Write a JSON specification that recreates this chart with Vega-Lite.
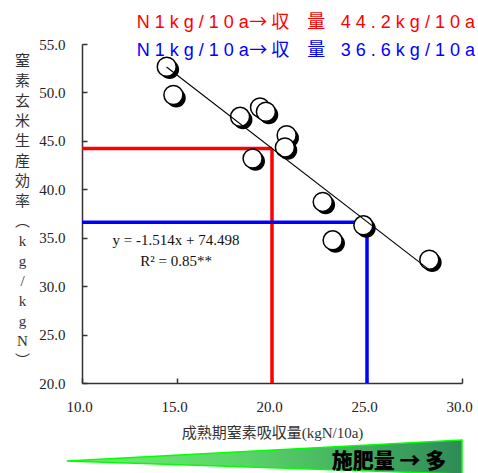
{
  "$schema": "https://vega.github.io/schema/vega-lite/v6.json",
  "width": 380,
  "height": 339,
  "autosize": {"type": "none"},
  "padding": {"left": 82, "top": 44, "right": 16, "bottom": 90},
  "background": "white",
  "config": {
    "view": {"stroke": null},
    "axis": {
      "grid": false,
      "labelFlush": false,
      "labelOverlap": false,
      "domainColor": "#333333",
      "domainWidth": 1.5,
      "tickColor": "#333333",
      "tickWidth": 1.5,
      "tickSize": -5,
      "labelFont": "Liberation Serif",
      "labelFontSize": 15,
      "labelColor": "#222222",
      "titleFont": "Liberation Serif, Noto Sans CJK JP",
      "titleFontWeight": "normal",
      "titleColor": "#333333"
    }
  },
  "datasets": {
    "points": [
      {"x": 14.46, "y": 52.65},
      {"x": 14.81, "y": 49.73},
      {"x": 18.32, "y": 47.48},
      {"x": 19.37, "y": 48.45},
      {"x": 19.68, "y": 48.0},
      {"x": 20.77, "y": 45.59},
      {"x": 20.68, "y": 44.32},
      {"x": 18.98, "y": 43.18},
      {"x": 22.67, "y": 38.7},
      {"x": 24.81, "y": 36.28},
      {"x": 23.19, "y": 34.73},
      {"x": 28.28, "y": 32.73}
    ],
    "fit": [
      {"x": 14.45, "y": 52.62},
      {"x": 28.25, "y": 31.73}
    ],
    "guides": [
      {"series": "44.2", "x": 10, "x2": 20, "y": 44.2, "y2": 44.2},
      {"series": "44.2", "x": 20, "x2": 20, "y": 20, "y2": 44.2},
      {"series": "36.6", "x": 10, "x2": 25, "y": 36.6, "y2": 36.6},
      {"series": "36.6", "x": 25, "x2": 25, "y": 20, "y2": 36.6}
    ],
    "wedge": [
      {"x": 9.2, "lo": 11.95, "hi": 11.95},
      {"x": 30, "lo": 10.6, "hi": 14.12}
    ]
  },
  "layer": [
    {
      "data": {"name": "wedge"},
      "mark": {
        "type": "area",
        "clip": false,
        "stroke": "#00ff00",
        "strokeWidth": 1.5,
        "fill": {
          "gradient": "linear",
          "x1": 0, "x2": 1, "y1": 0, "y2": 0,
          "stops": [
            {"offset": 0, "color": "#70f070"},
            {"offset": 0.45, "color": "#5ad46a"},
            {"offset": 1, "color": "#2e8b57"}
          ]
        }
      },
      "encoding": {
        "x": {"field": "x", "type": "quantitative", "scale": {"domain": [10, 30], "nice": false, "zero": false}},
        "y": {"field": "lo", "type": "quantitative", "scale": {"domain": [20, 55], "nice": false, "zero": false}},
        "y2": {"field": "hi"}
      }
    },
    {
      "data": {"name": "points"},
      "mark": {"type": "point", "opacity": 0},
      "encoding": {
        "x": {
          "field": "x", "type": "quantitative",
          "scale": {"domain": [10, 30], "nice": false, "zero": false},
          "axis": {
            "values": [10, 15, 20, 25, 30],
            "format": ".1f",
            "labelPadding": 21,
            "labelOffset": -3,
            "title": "成熟期窒素吸収量(kgN/10a)",
            "titleFontSize": 15,
            "titlePadding": 11
          }
        },
        "y": {
          "field": "y", "type": "quantitative",
          "scale": {"domain": [20, 55], "nice": false, "zero": false},
          "axis": {
            "values": [20, 25, 30, 35, 40, 45, 50, 55],
            "format": ".1f",
            "labelPadding": 22,
            "title": ["窒", "素", "玄", "米", "生", "産", "効", "率", "︵", "k", "g", "/", "k", "g", "N", "︶"],
            "titleAngle": 0,
            "titleFontSize": 15,
            "titleLineHeight": 20,
            "titleAlign": "center",
            "titleBaseline": "top",
            "titleX": -60,
            "titleY": 9
          }
        }
      }
    },
    {
      "data": {"name": "guides"},
      "mark": {"type": "rule", "strokeWidth": 3.5, "strokeCap": "butt"},
      "encoding": {
        "x": {"field": "x", "type": "quantitative", "scale": {"domain": [10, 30], "nice": false, "zero": false}},
        "x2": {"field": "x2"},
        "y": {"field": "y", "type": "quantitative", "scale": {"domain": [20, 55], "nice": false, "zero": false}},
        "y2": {"field": "y2"},
        "color": {"field": "series", "type": "nominal", "scale": {"domain": ["44.2", "36.6"], "range": ["#ff0000", "#0000ff"]}, "legend": null}
      }
    },
    {
      "data": {"name": "points"},
      "mark": {"type": "point", "filled": true, "fill": "#000000", "stroke": null, "opacity": 1, "size": 361, "shape": "M-0.7,0.3A1,1,0,1,0,1.3,0.3A1,1,0,1,0,-0.7,0.3Z"},
      "encoding": {
        "x": {"field": "x", "type": "quantitative", "scale": {"domain": [10, 30], "nice": false, "zero": false}},
        "y": {"field": "y", "type": "quantitative", "scale": {"domain": [20, 55], "nice": false, "zero": false}}
      }
    },
    {
      "data": {"name": "points"},
      "mark": {"type": "point", "shape": "circle", "filled": true, "fill": "#ffffff", "stroke": "#000000", "strokeWidth": 1.5, "opacity": 1, "size": 361},
      "encoding": {
        "x": {"field": "x", "type": "quantitative", "scale": {"domain": [10, 30], "nice": false, "zero": false}},
        "y": {"field": "y", "type": "quantitative", "scale": {"domain": [20, 55], "nice": false, "zero": false}}
      }
    },
    {
      "data": {"name": "fit"},
      "mark": {"type": "line", "color": "#000000", "strokeWidth": 1.1},
      "encoding": {
        "x": {"field": "x", "type": "quantitative", "scale": {"domain": [10, 30], "nice": false, "zero": false}},
        "y": {"field": "y", "type": "quantitative", "scale": {"domain": [20, 55], "nice": false, "zero": false}}
      }
    },
    {
      "data": {"values": [{}]},
      "mark": {"type": "text", "align": "left", "baseline": "alphabetic", "font": "Liberation Sans", "fontSize": 18, "color": "#ff0000"},
      "encoding": {
        "x": {"datum": 12.88, "type": "quantitative", "scale": {"domain": [10, 30], "nice": false, "zero": false}},
        "y": {"datum": 56.65, "type": "quantitative", "scale": {"domain": [20, 55], "nice": false, "zero": false}},
        "text": {"value": "N 1 k g / 1 0 a"}
      }
    },
    {
      "data": {"values": [{}]},
      "mark": {"type": "text", "align": "left", "baseline": "alphabetic", "font": "Noto Sans CJK JP", "fontSize": 18, "color": "#ff0000"},
      "encoding": {
        "x": {"datum": 18.8, "type": "quantitative", "scale": {"domain": [10, 30], "nice": false, "zero": false}},
        "y": {"datum": 56.65, "type": "quantitative", "scale": {"domain": [20, 55], "nice": false, "zero": false}},
        "text": {"value": "→ 収　量"}
      }
    },
    {
      "data": {"values": [{}]},
      "mark": {"type": "text", "align": "right", "baseline": "alphabetic", "font": "Liberation Sans", "fontSize": 18, "color": "#ff0000"},
      "encoding": {
        "x": {"datum": 30.68, "type": "quantitative", "scale": {"domain": [10, 30], "nice": false, "zero": false}},
        "y": {"datum": 56.65, "type": "quantitative", "scale": {"domain": [20, 55], "nice": false, "zero": false}},
        "text": {"value": "4 4 . 2 k g / 1 0 a"}
      }
    },
    {
      "data": {"values": [{}]},
      "mark": {"type": "text", "align": "left", "baseline": "alphabetic", "font": "Liberation Sans", "fontSize": 18, "color": "#0000ff"},
      "encoding": {
        "x": {"datum": 12.88, "type": "quantitative", "scale": {"domain": [10, 30], "nice": false, "zero": false}},
        "y": {"datum": 53.76, "type": "quantitative", "scale": {"domain": [20, 55], "nice": false, "zero": false}},
        "text": {"value": "N 1 k g / 1 0 a"}
      }
    },
    {
      "data": {"values": [{}]},
      "mark": {"type": "text", "align": "left", "baseline": "alphabetic", "font": "Noto Sans CJK JP", "fontSize": 18, "color": "#0000ff"},
      "encoding": {
        "x": {"datum": 18.8, "type": "quantitative", "scale": {"domain": [10, 30], "nice": false, "zero": false}},
        "y": {"datum": 53.76, "type": "quantitative", "scale": {"domain": [20, 55], "nice": false, "zero": false}},
        "text": {"value": "→ 収　量"}
      }
    },
    {
      "data": {"values": [{}]},
      "mark": {"type": "text", "align": "right", "baseline": "alphabetic", "font": "Liberation Sans", "fontSize": 18, "color": "#0000ff"},
      "encoding": {
        "x": {"datum": 30.68, "type": "quantitative", "scale": {"domain": [10, 30], "nice": false, "zero": false}},
        "y": {"datum": 53.76, "type": "quantitative", "scale": {"domain": [20, 55], "nice": false, "zero": false}},
        "text": {"value": "3 6 . 6 k g / 1 0 a"}
      }
    },
    {
      "data": {"values": [{}]},
      "mark": {"type": "text", "align": "center", "baseline": "alphabetic", "font": "Liberation Serif", "fontSize": 15, "color": "#111111"},
      "encoding": {
        "x": {"datum": 14.95, "type": "quantitative", "scale": {"domain": [10, 30], "nice": false, "zero": false}},
        "y": {"datum": 34.2, "type": "quantitative", "scale": {"domain": [20, 55], "nice": false, "zero": false}},
        "text": {"value": "y = -1.514x + 74.498"}
      }
    },
    {
      "data": {"values": [{}]},
      "mark": {"type": "text", "align": "center", "baseline": "alphabetic", "font": "Liberation Serif", "fontSize": 15, "color": "#111111"},
      "encoding": {
        "x": {"datum": 14.95, "type": "quantitative", "scale": {"domain": [10, 30], "nice": false, "zero": false}},
        "y": {"datum": 32.03, "type": "quantitative", "scale": {"domain": [20, 55], "nice": false, "zero": false}},
        "text": {"value": "R² = 0.85**"}
      }
    },
    {
      "data": {"values": [{}]},
      "mark": {"type": "text", "align": "center", "baseline": "alphabetic", "font": "Noto Sans CJK JP", "fontWeight": 900, "fontSize": 21, "color": "#000000"},
      "encoding": {
        "x": {"datum": 26.16, "type": "quantitative", "scale": {"domain": [10, 30], "nice": false, "zero": false}},
        "y": {"datum": 11.22, "type": "quantitative", "scale": {"domain": [20, 55], "nice": false, "zero": false}},
        "text": {"value": "施肥量 → 多"}
      }
    }
  ]
}
